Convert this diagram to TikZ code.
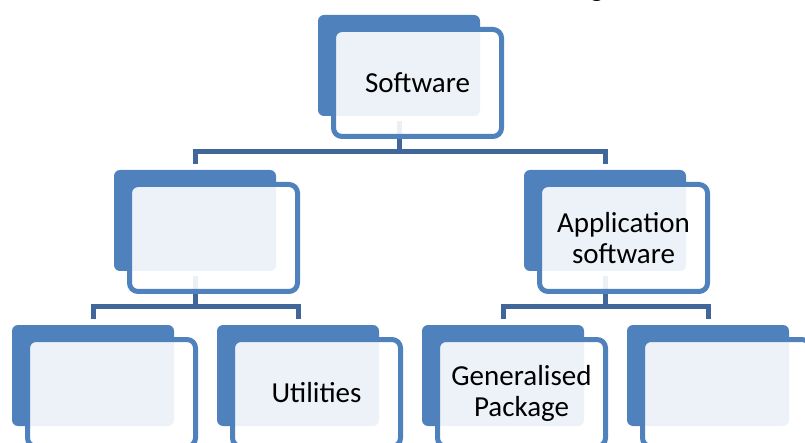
\documentclass[tikz,border=0pt]{standalone}
\usepackage{fontspec}
\setmainfont{Carlito}
\definecolor{bk}{HTML}{4F81BD}
\definecolor{fr}{HTML}{4F81BD}
\definecolor{cn}{HTML}{41679A}
\tikzset{
  backbox/.style={fill=bk, draw=none, rounded corners=6pt, minimum width=162pt, minimum height=101pt, inner sep=0pt, outer sep=0pt},
  frontbox/.style={draw=fr, line width=5pt, fill=white, fill opacity=0.9, text opacity=1, rounded corners=8.5pt, minimum width=168pt, minimum height=107pt, inner sep=0pt, outer sep=0pt, align=center, font=\fontsize{29pt}{31pt}\selectfont},
  conn/.style={draw=cn, line width=5pt}
}
\begin{document}
\begin{tikzpicture}[x=1pt,y=-1pt]
\useasboundingbox (0,0) rectangle (805,443);
% partial title text at top edge
\node[anchor=base, inner sep=0pt, font=\fontsize{29pt}{31pt}\selectfont] (g) at (597,-3) {g};
% back boxes
\node[backbox] (sw-b) at (399,65.5) {};
\node[backbox] (l2l-b) at (195,220.5) {};
\node[backbox] (l2r-b) at (605,220.5) {};
\node[backbox] (l3a-b) at (93,375.5) {};
\node[backbox] (l3b-b) at (298,375.5) {};
\node[backbox] (l3c-b) at (503,375.5) {};
\node[backbox] (l3d-b) at (708,375.5) {};
% connectors
\coordinate (sw-j) at ([yshift=-36pt]sw-b.south);
\coordinate (l2l-j) at ([yshift=-36pt]l2l-b.south);
\coordinate (l2r-j) at ([yshift=-36pt]l2r-b.south);
\draw[conn] ([yshift=-5pt]sw-b.south) -- (sw-j);
\draw[conn] ([yshift=6pt]l2l-b.north) |- (sw-j) -| ([yshift=6pt]l2r-b.north);
\draw[conn] ([yshift=-5pt]l2l-b.south) -- (l2l-j);
\draw[conn] ([yshift=6pt]l3a-b.north) |- (l2l-j) -| ([yshift=6pt]l3b-b.north);
\draw[conn] ([yshift=-5pt]l2r-b.south) -- (l2r-j);
\draw[conn] ([yshift=6pt]l3c-b.north) |- (l2r-j) -| ([yshift=6pt]l3d-b.north);
% front boxes
\node[frontbox] (sw) at (417.5,83) {Software};
\node[frontbox] (l2l) at (213.5,238) {};
\node[frontbox] (l2r) at (623.5,238) {Application\\software};
\node[frontbox] (l3a) at (111.5,393) {};
\node[frontbox] (l3b) at (316.5,393) {Utilities};
\node[frontbox] (l3c) at (521.5,393) {Generalised\\Package};
\node[frontbox] (l3d) at (726.5,393) {};
\end{tikzpicture}
\end{document}
